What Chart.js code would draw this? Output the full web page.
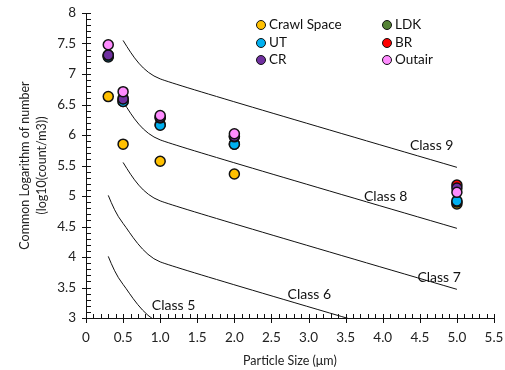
<!DOCTYPE html>
<html>
<head>
<meta charset="utf-8">
<script src="https://cdn.jsdelivr.net/npm/chart.js@4/dist/chart.umd.min.js"></script>
<style>
  body { margin: 0; background: #fff; }
  #wrap { position: relative; width: 505px; height: 370px; }
  #legend { position: absolute; left: 256px; top: 15px; font: 13.5px Lato, sans-serif; color: #111; }
  .item { position: absolute; white-space: nowrap; height: 18px; line-height: 18px; }
  .dot { display: inline-block; width: 8px; height: 8px; border: 1.5px solid #111; border-radius: 50%; vertical-align: -1px; margin-right: 3px; }
</style>
</head>
<body>
<div id="wrap">
  <canvas id="chart" width="505" height="370"></canvas>
  <div id="legend"></div>
</div>
<script>
// particle sizes (um)
const sizes = [0.3, 0.5, 1, 2, 5];

// log10(count/m3) per location
const crawlSpace = [6.63, 5.85, 5.57, 5.36, 4.87];
const ldk = [7.29, 6.55, 6.17, 5.85, 4.9];
const ut = [7.28, 6.55, 6.16, 5.85, 4.92];
const br = [7.31, 6.6, 6.28, 5.97, 5.18];
const cr = [7.31, 6.59, 6.29, 5.98, 5.13];
const outair = [7.48, 6.71, 6.32, 6.02, 5.06];

// ISO class limits (log10)
const classSizesLow = [0.3, 0.5, 1, 5];
const classSizesHigh = [0.5, 1, 5];
const class5 = [4.01, 3.55, 2.92, 1.46];
const class6 = [5.01, 4.55, 3.92, 2.47];
const class7 = [5.55, 4.92, 3.47];
const class8 = [6.55, 5.92, 4.47];
const class9 = [7.55, 6.92, 5.47];

// class label anchors (data coords)
const classLabels = ["Class 5", "Class 6", "Class 7", "Class 8", "Class 9"];
const labelX = [1.18, 3.01, 4.76, 4.04, 4.66];
const labelY = [3.21, 3.38, 3.67, 5.0, 5.82];

const xTicks = [0, 0.5, 1, 1.5, 2, 2.5, 3, 3.5, 4, 4.5, 5, 5.5];

const toPoints = (xs, ys) => xs.map((x, i) => ({ x: x, y: ys[i] }));

const series = [
  { label: "Crawl Space", data: crawlSpace, color: "#FFC000" },
  { label: "LDK", data: ldk, color: "#548235" },
  { label: "UT", data: ut, color: "#00B0F0" },
  { label: "BR", data: br, color: "#FF0000" },
  { label: "CR", data: cr, color: "#7030A0" },
  { label: "Outair", data: outair, color: "#FF8CFF" },
];

const classLines = [
  [classSizesLow, class5],
  [classSizesLow, class6],
  [classSizesHigh, class7],
  [classSizesHigh, class8],
  [classSizesHigh, class9],
];

// Chart.js draws lower order on top, so later series get lower order
const datasets = series.map((s, i) => ({
  label: s.label,
  data: toPoints(sizes, s.data),
  backgroundColor: s.color,
  borderColor: "#111",
  borderWidth: 1.5,
  pointRadius: 5,
  order: series.length - i,
}));

classLines.forEach((c, i) => {
  datasets.push({
    label: classLabels[i],
    data: toPoints(c[0], c[1]),
    showLine: true,
    borderColor: "#111",
    borderWidth: 1,
    pointRadius: 0,
    tension: 0.4,
    order: 20,
  });
});

const tickFont = { family: "Lato", size: 13.5 };

// Excel-like smoothing: tangent along the neighbours, handle limited by the shorter side
const SMOOTH = 0.35;
const smoothLines = {
  id: "smoothLines",
  beforeDatasetDraw(chart, args) {
    const ds = chart.data.datasets[args.index];
    if (!ds.showLine) return;
    const meta = args.meta;
    const pts = meta.data;
    const n = pts.length;
    for (let i = 1; i < n - 1; i++) {
      const p = pts[i], a = pts[i - 1], b = pts[i + 1];
      let dx = b.x - a.x, dy = b.y - a.y;
      const len = Math.hypot(dx, dy);
      dx /= len; dy /= len;
      const L = SMOOTH * Math.min(Math.hypot(p.x - a.x, p.y - a.y), Math.hypot(b.x - p.x, b.y - p.y));
      p.cp1x = p.x - L * dx; p.cp1y = p.y - L * dy;
      p.cp2x = p.x + L * dx; p.cp2y = p.y + L * dy;
    }
    const first = pts[0], last = pts[n - 1];
    first.cp1x = first.x; first.cp1y = first.y;
    first.cp2x = first.x + (pts[1].cp1x - first.x) / 2;
    first.cp2y = first.y + (pts[1].cp1y - first.y) / 2;
    last.cp2x = last.x; last.cp2y = last.y;
    last.cp1x = last.x + (pts[n - 2].cp2x - last.x) / 2;
    last.cp1y = last.y + (pts[n - 2].cp2y - last.y) / 2;
    meta.dataset._pointsUpdated = true;
    meta.dataset._path = undefined;
  },
};

// axes with inside minor ticks and crossing major ticks, plus class labels
const excelAxes = {
  id: "excelAxes",
  afterDraw(chart) {
    const ctx = chart.ctx;
    const xs = chart.scales.x;
    const ys = chart.scales.y;
    const left = chart.chartArea.left;
    const bottom = chart.chartArea.bottom;
    ctx.save();
    ctx.strokeStyle = "#111";
    ctx.lineWidth = 1;
    ctx.beginPath();
    ctx.moveTo(left + 0.5, chart.chartArea.top);
    ctx.lineTo(left + 0.5, bottom);
    ctx.moveTo(left + 0.5, bottom + 0.5);
    ctx.lineTo(chart.chartArea.right, bottom + 0.5);
    for (let i = 0; i <= 50; i++) {
      const v = 3 + i * 0.1;
      const py = Math.round(ys.getPixelForValue(v)) + 0.5;
      if (i % 5 === 0) {
        ctx.moveTo(left - 4, py);
        ctx.lineTo(left + 5, py);
      } else {
        ctx.moveTo(left, py);
        ctx.lineTo(left + 5, py);
      }
    }
    for (let i = 0; i <= 55; i++) {
      const v = i * 0.1;
      const px = Math.round(xs.getPixelForValue(v)) + 0.5;
      if (i % 5 === 0) {
        ctx.moveTo(px, bottom - 4);
        ctx.lineTo(px, bottom + 5);
      } else {
        ctx.moveTo(px, bottom - 4);
        ctx.lineTo(px, bottom);
      }
    }
    ctx.stroke();

    ctx.fillStyle = "#111";
    ctx.font = "14px Lato";
    ctx.textAlign = "center";
    ctx.textBaseline = "middle";
    classLabels.forEach((t, i) => {
      ctx.fillText(t, xs.getPixelForValue(labelX[i]), ys.getPixelForValue(labelY[i]));
    });
    ctx.restore();
  },
};

new Chart(document.getElementById("chart"), {
  type: "scatter",
  data: { datasets: datasets },
  options: {
    responsive: false,
    animation: false,
    layout: { padding: { top: 13, right: 11, left: 0, bottom: 0 } },
    plugins: {
      legend: { display: false },
      tooltip: { enabled: false },
    },
    scales: {
      x: {
        type: "linear",
        min: 0,
        max: 5.5,
        afterBuildTicks: (scale) => {
          scale.ticks = xTicks.map((v) => ({ value: v }));
        },
        afterFit: (scale) => {
          scale.height = 52;
          scale.paddingLeft = 0;
          scale.paddingRight = 0;
        },
        grid: { display: false, drawTicks: false },
        border: { display: false },
        ticks: { font: tickFont, color: "#222", padding: 12, maxRotation: 0 },
        title: {
          display: true,
          text: "Particle Size (μm)",
          font: { family: "Lato", size: 12.5, lineHeight: 1.35 },
          color: "#222",
          padding: { top: 0, bottom: 1 },
        },
      },
      y: {
        min: 3,
        max: 8,
        ticks: {
          stepSize: 0.5,
          font: tickFont,
          color: "#222",
          padding: 10,
          callback: (v) => String(v),
        },
        afterFit: (scale) => {
          scale.width = 86;
          scale.paddingTop = 0;
          scale.paddingBottom = 0;
        },
        grid: { display: false, drawTicks: false },
        border: { display: false },
        title: {
          display: true,
          text: ["Common Logarithm of number", "(log10(count/m3))"],
          font: { family: "Lato", size: 12.5, lineHeight: 1.35 },
          color: "#222",
          padding: { top: 17, bottom: 0 },
        },
      },
    },
  },
  plugins: [smoothLines, excelAxes],
});

// legend, two columns filled row by row
const legendEl = document.getElementById("legend");
series.forEach((s, i) => {
  const item = document.createElement("div");
  item.className = "item";
  item.style.left = (i % 2) * 126 + "px";
  item.style.top = Math.floor(i / 2) * 17.5 + "px";
  item.innerHTML = '<span class="dot" style="background:' + s.color + '"></span>' + s.label;
  legendEl.appendChild(item);
});
</script>
</body>
</html>
